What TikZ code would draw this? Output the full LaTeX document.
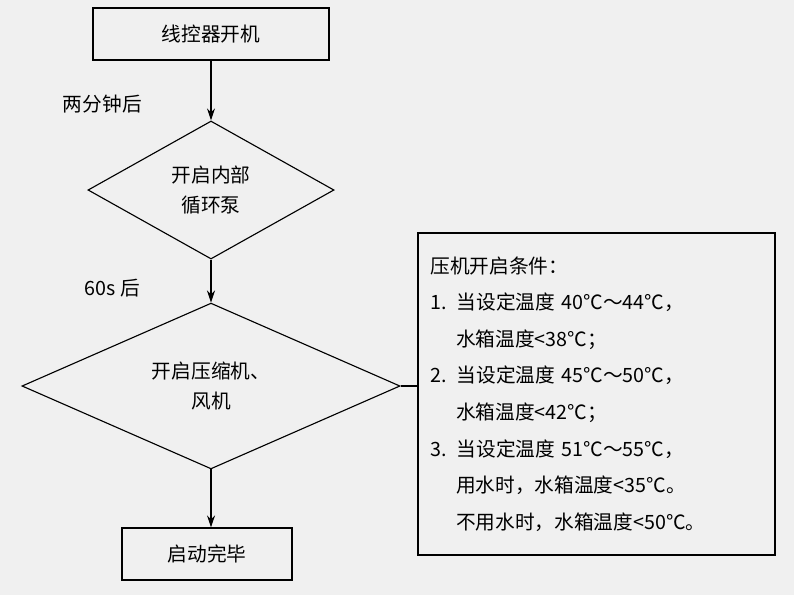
\documentclass[tikz,border=0pt]{standalone}
\usepackage{fontspec}
\setmainfont{Noto Sans CJK SC}
\usetikzlibrary{shapes.geometric,arrows.meta,positioning}

\begin{document}
\begin{tikzpicture}[x=0.025cm,y=-0.025cm]
	\tikzstyle{every node}=[font=\fontsize{14}{17}\selectfont]
	\tikzset{
		stepbox/.style={draw,line width=0.8pt,minimum width=5.9cm,minimum height=1.3cm},
		choice/.style={draw,line width=0.8pt,shape=diamond,inner sep=0pt,align=center},
		flow/.style={-{Stealth[length=3mm,width=2mm]},line width=0.8pt},
		note/.style={draw,line width=0.8pt,align=left,minimum width=8.925cm,minimum height=8.05cm,text width=8.3cm,font=\fontsize{14}{26}\selectfont}
	}
	
	%% paper
	\fill [gray!12] (0,0) rectangle (794,595);
	
	\node [stepbox]  (start)  at (211,34)  {线控器开机};
	\node [choice,minimum width=6.15cm,minimum height=3.45cm]  (pump)  at (211,190)  {开启内部\\[4pt]循环泵};
	\node [choice,minimum width=9.45cm,minimum height=3.2cm]  (comp)  at (211,386)  {开启压缩机、\\[4pt]风机};
	\node [stepbox,minimum width=4.25cm]  (done)  at (207,554)  {启动完毕};
	\node [note]  (cond)  at (596.5,394)  {压机开启条件：\\
		1. 当设定温度 40℃～44℃，\\
		\hspace*{1.3em}水箱温度<38℃；\\
		2. 当设定温度 45℃～50℃，\\
		\hspace*{1.3em}水箱温度<42℃；\\
		3. 当设定温度 51℃～55℃，\\
		\hspace*{1.3em}用水时，水箱温度<35℃。\\
		\hspace*{1.3em}不用水时，水箱温度<50℃。};
	
	\draw [flow]  (start) -- (pump);
	\node [anchor=west]  (twomin)  at (58,104)  {两分钟后};
	\draw [flow]  (pump) -- (comp);
	\node [anchor=west]  (sixty)  at (80,288)  {60s 后};
	\draw [flow]  (comp.south) -- (comp.south |- done.north);
	\draw [line width=0.8pt]  (comp.east) -- (cond.west |- comp.east);

\end{tikzpicture}
\end{document}
